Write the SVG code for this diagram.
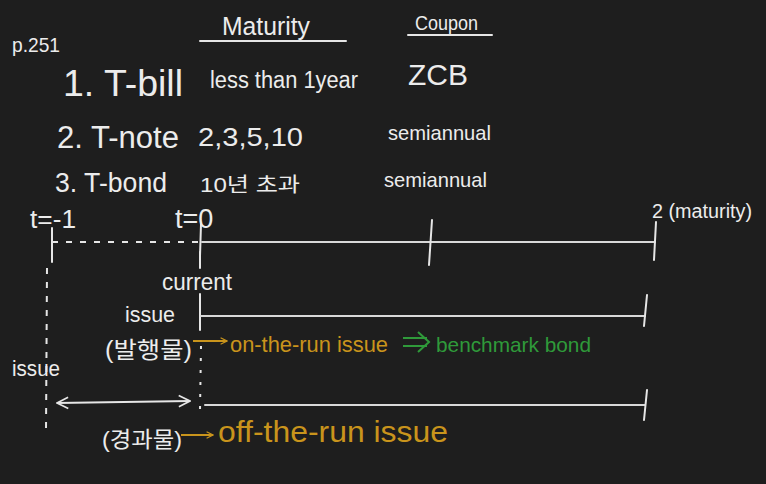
<svg xmlns="http://www.w3.org/2000/svg" width="766" height="484" viewBox="0 0 766 484">
<style>
  text { font-family: "Liberation Sans", "Noto Sans CJK KR", sans-serif; }
  .w { fill: #ececec; }
  .o { fill: #c9941c; }
  .g { fill: #2f9a3a; }
  .ln { stroke: #d8d8d8; stroke-width: 2; fill: none; stroke-linecap: round; }
  .tick { stroke: #e6e6e6; stroke-width: 2; fill: none; stroke-linecap: round; }
  .dash { stroke: #e6e6e6; stroke-width: 2; fill: none; stroke-dasharray: 6 8; }
  .arrO { stroke: #c9941c; stroke-width: 2; fill: none; }
  .arrW { stroke: #e6e6e6; stroke-width: 2; fill: none; }
</style>
<defs>
  <marker id="hO" viewBox="0 0 10 10" refX="9" refY="5" markerWidth="8" markerHeight="8" orient="auto" markerUnits="userSpaceOnUse">
    <path d="M1,1 L9,5 L1,9" stroke="#c9941c" stroke-width="1.5" fill="none"/>
  </marker>
  <marker id="hW" viewBox="0 0 10 10" refX="9" refY="5" markerWidth="14" markerHeight="14" orient="auto-start-reverse" markerUnits="userSpaceOnUse">
    <path d="M1,1 L9,5 L1,9" stroke="#e6e6e6" stroke-width="1.2" fill="none"/>
  </marker>
</defs>
<rect width="766" height="484" fill="#1e1e1e"/>

<g id="page"><text class="w" x="12" y="52" font-size="21" textLength="48" lengthAdjust="spacingAndGlyphs">p.251</text></g>

<g id="hdr-maturity">
  <text class="w" x="222" y="35" font-size="26" textLength="88" lengthAdjust="spacingAndGlyphs">Maturity</text>
  <line class="tick" x1="200" y1="41" x2="346" y2="41"/>
</g>
<g id="hdr-coupon">
  <text class="w" x="415" y="30" font-size="20" textLength="63" lengthAdjust="spacingAndGlyphs">Coupon</text>
  <line class="tick" x1="408" y1="35" x2="492" y2="35"/>
</g>

<g id="row1">
  <text class="w" x="63" y="96" font-size="36" textLength="120" lengthAdjust="spacingAndGlyphs">1. T-bill</text>
  <text class="w" x="210" y="88" font-size="23" textLength="148" lengthAdjust="spacingAndGlyphs">less than 1year</text>
  <text class="w" x="408" y="85" font-size="30" textLength="60" lengthAdjust="spacingAndGlyphs">ZCB</text>
</g>
<g id="row2">
  <text class="w" x="57" y="148" font-size="31" textLength="122" lengthAdjust="spacingAndGlyphs">2. T-note</text>
  <text class="w" x="198" y="146" font-size="26" textLength="105" lengthAdjust="spacingAndGlyphs">2,3,5,10</text>
  <text class="w" x="388" y="140" font-size="21" textLength="103" lengthAdjust="spacingAndGlyphs">semiannual</text>
</g>
<g id="row3">
  <text class="w" x="55" y="192" font-size="27" textLength="112" lengthAdjust="spacingAndGlyphs">3. T-bond</text>
  <text class="w" x="200" y="192" font-size="20" textLength="100" lengthAdjust="spacingAndGlyphs">10년 초과</text>
  <text class="w" x="384" y="187" font-size="21" textLength="103" lengthAdjust="spacingAndGlyphs">semiannual</text>
</g>

<g id="connectors">
  <line class="dash" x1="52" y1="242" x2="200" y2="242"/>
  <line class="ln" x1="202" y1="242" x2="655" y2="242"/>
  <line class="tick" x1="52" y1="228" x2="52" y2="262"/>
  <line class="tick" x1="201" y1="224" x2="200" y2="256"/>
  <line class="tick" x1="432" y1="220" x2="429" y2="265"/>
  <line class="tick" x1="656" y1="222" x2="654" y2="260"/>
  <line class="tick" x1="200" y1="252" x2="200" y2="268"/>
  <line class="dash" x1="47" y1="268" x2="46" y2="432"/>
  <line class="tick" x1="200" y1="294" x2="200" y2="330"/>
  <line class="ln" x1="201" y1="316" x2="645" y2="316"/>
  <line class="tick" x1="647" y1="295" x2="644" y2="326"/>
  <line stroke="#e6e6e6" stroke-width="2" stroke-dasharray="3 9" x1="201" y1="346" x2="200" y2="410"/>
  <line class="ln" x1="205" y1="405" x2="645" y2="405"/>
  <line class="tick" x1="647" y1="390" x2="644" y2="420"/>
  <line class="arrW" x1="57" y1="403" x2="190" y2="401" marker-start="url(#hW)" marker-end="url(#hW)"/>
  <line class="arrO" x1="193" y1="341" x2="227" y2="341" marker-end="url(#hO)"/>
  <line class="arrO" x1="181" y1="435" x2="213" y2="435" marker-end="url(#hO)"/>
  <g stroke="#2f9a3a" stroke-width="2" fill="none">
    <line x1="403" y1="338" x2="427" y2="338"/>
    <line x1="403" y1="346" x2="427" y2="346"/>
    <path d="M418,332 L429,342 L418,352"/>
  </g>
</g>

<g id="t-minus1"><text class="w" x="30" y="228" font-size="25" textLength="46" lengthAdjust="spacingAndGlyphs">t=-1</text></g>
<g id="t-zero"><text class="w" x="175" y="228" font-size="27">t=0</text></g>
<g id="maturity-pt"><text class="w" x="652" y="218" font-size="20" textLength="100" lengthAdjust="spacingAndGlyphs">2 (maturity)</text></g>
<g id="current"><text class="w" x="162" y="290" font-size="23" textLength="70" lengthAdjust="spacingAndGlyphs">current</text></g>

<g id="new-issue">
  <text class="w" x="125" y="322" font-size="22" textLength="50" lengthAdjust="spacingAndGlyphs">issue</text>
  <text class="w" x="105" y="358" font-size="23" textLength="87" lengthAdjust="spacingAndGlyphs">(발행물)</text>
</g>
<g id="on-the-run"><text class="o" x="230" y="352" font-size="22" textLength="158" lengthAdjust="spacingAndGlyphs">on-the-run issue</text></g>
<g id="benchmark"><text class="g" x="436" y="352" font-size="21" textLength="155" lengthAdjust="spacingAndGlyphs">benchmark bond</text></g>

<g id="old-issue">
  <text class="w" x="12" y="376" font-size="22" textLength="48" lengthAdjust="spacingAndGlyphs">issue</text>
  <text class="w" x="102" y="447" font-size="22" textLength="80" lengthAdjust="spacingAndGlyphs">(경과물)</text>
</g>
<g id="off-the-run"><text class="o" x="218" y="442" font-size="30" textLength="230" lengthAdjust="spacingAndGlyphs">off-the-run issue</text></g>
</svg>
